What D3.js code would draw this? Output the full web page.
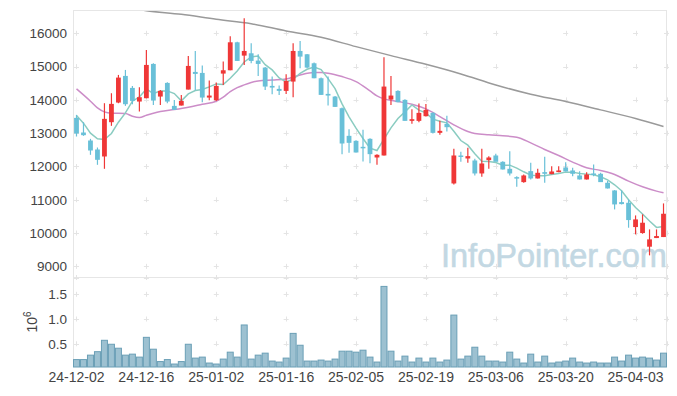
<!DOCTYPE html>
<html>
<head>
<meta charset="utf-8">
<script src="https://cdn.jsdelivr.net/npm/d3@7"></script>
<style>
  body { margin: 0; background: #fff; }
  svg { display: block; font-family: "Liberation Sans", Arial, sans-serif; }
</style>
</head>
<body>
<svg id="chart" width="677" height="396"></svg>
<script>
/*
Candlestick chart with moving averages and volume
*/

// Trading days (yy-mm-dd)
const dates = [
  "24-12-02", "24-12-03", "24-12-04", "24-12-05", "24-12-06", "24-12-09", "24-12-10", "24-12-11", "24-12-12", "24-12-13",
  "24-12-16", "24-12-17", "24-12-18", "24-12-19", "24-12-20", "24-12-23", "24-12-24", "24-12-26", "24-12-27", "24-12-30",
  "25-01-02", "25-01-03", "25-01-06", "25-01-07", "25-01-08", "25-01-09", "25-01-10", "25-01-13", "25-01-14", "25-01-15",
  "25-01-16", "25-01-17", "25-01-20", "25-01-21", "25-01-22", "25-01-23", "25-01-24", "25-01-31", "25-02-03", "25-02-04",
  "25-02-05", "25-02-06", "25-02-07", "25-02-10", "25-02-11", "25-02-12", "25-02-13", "25-02-14", "25-02-17", "25-02-18",
  "25-02-19", "25-02-20", "25-02-21", "25-02-24", "25-02-25", "25-02-26", "25-02-27", "25-02-28", "25-03-04", "25-03-05",
  "25-03-06", "25-03-07", "25-03-10", "25-03-11", "25-03-12", "25-03-13", "25-03-14", "25-03-17", "25-03-18", "25-03-19",
  "25-03-20", "25-03-21", "25-03-24", "25-03-25", "25-03-26", "25-03-27", "25-03-28", "25-03-31", "25-04-01", "25-04-02",
  "25-04-03", "25-04-04", "25-04-07", "25-04-08", "25-04-09",
];

const opens = [
  13460, 13020, 12780, 12510, 12300, 13330, 13920, 14720, 14360, 13950,
  14050, 15080, 14100, 14510, 13820, 13830, 14310, 14840, 14810, 14070,
  13990, 14790, 14890, 15730, 15330, 15400, 15180, 14970, 14420, 14330,
  14270, 14550, 15470, 15370, 15100, 14650, 14180, 14100, 13750, 12920,
  12770, 12590, 12830, 12270, 12330, 14010, 14270, 14000, 13370, 13370,
  13510, 13610, 13010, 13280, 11490, 12330, 12240, 12180, 11790, 12190,
  12330, 12140, 11930, 11680, 11530, 11860, 11640, 11830, 11770, 11830,
  11970, 11880, 11730, 11610, 11790, 11780, 11510, 11280, 10930, 10910,
  10180, 10000, 9590, 9850, 9880,
];

const highs = [
  13550, 13330, 12830, 12570, 13900, 14200, 14750, 14900, 14420, 14380,
  15500, 15100, 14300, 14530, 14000, 14150, 15320, 15470, 15030, 14580,
  14520, 15150, 15910, 15750, 16450, 15700, 15370, 14990, 14700, 14430,
  14770, 15700, 15770, 15380, 15120, 14670, 14700, 14120, 13770, 13120,
  12790, 13100, 12850, 12370, 15280, 14720, 14290, 14020, 13720, 13890,
  13880, 13630, 13370, 13520, 12530, 12440, 12560, 12230, 12530, 12310,
  12380, 12160, 12460, 11710, 11760, 12110, 11930, 12290, 12010, 12010,
  12130, 11960, 11860, 11830, 12060, 11810, 11560, 11290, 11280, 11010,
  10530, 10560, 10110, 10110, 10890,
];

const lows = [
  12900, 12920, 12350, 12050, 11930, 13220, 13900, 13820, 13870, 13650,
  14050, 13850, 13850, 13900, 13700, 13830, 14310, 14290, 13930, 13990,
  13970, 14450, 14890, 15170, 15050, 15100, 14720, 14300, 14170, 14150,
  14180, 14080, 14950, 14950, 14650, 14150, 13830, 13790, 12370, 12410,
  12420, 12150, 12100, 12050, 12330, 13850, 13930, 13370, 13280, 13330,
  13500, 12990, 12950, 13050, 11460, 12140, 12110, 11730, 11690, 11930,
  12180, 11910, 11730, 11390, 11510, 11610, 11640, 11510, 11770, 11830,
  11850, 11710, 11610, 11610, 11710, 11530, 11340, 10710, 10860, 10160,
  9960, 9980, 9330, 9850, 9880,
];

const closes = [
  12990, 12940, 12480, 12200, 13430, 13880, 14670, 13870, 13970, 14080,
  15050, 13980, 14270, 13950, 13700, 13970, 15020, 14780, 14070, 14130,
  14420, 14890, 15730, 15170, 15470, 15170, 15080, 14400, 14370, 14270,
  14570, 15470, 15300, 14970, 14650, 14150, 14130, 13790, 12690, 12710,
  12420, 12570, 12370, 12350, 14400, 14130, 13930, 13370, 13420, 13610,
  13700, 13010, 13070, 13180, 12330, 12310, 12310, 11790, 12090, 12270,
  12140, 11910, 11790, 11660, 11730, 11640, 11810, 11780, 11850, 11880,
  11850, 11780, 11610, 11760, 11770, 11530, 11340, 10860, 10870, 10390,
  10410, 10310, 9810, 9910, 10580,
];

// Volume, millions of shares
const volumes = [
  0.18, 0.18, 0.27, 0.34, 0.57, 0.49, 0.41, 0.27, 0.29, 0.23,
  0.63, 0.39, 0.14, 0.18, 0.09, 0.14, 0.49, 0.21, 0.23, 0.11,
  0.09, 0.19, 0.33, 0.23, 0.88, 0.19, 0.27, 0.31, 0.15, 0.13,
  0.21, 0.71, 0.47, 0.15, 0.15, 0.17, 0.15, 0.19, 0.35, 0.35,
  0.33, 0.37, 0.23, 0.13, 1.66, 0.35, 0.15, 0.25, 0.13, 0.21,
  0.13, 0.21, 0.13, 0.17, 1.08, 0.19, 0.25, 0.43, 0.25, 0.15,
  0.15, 0.13, 0.33, 0.19, 0.11, 0.29, 0.13, 0.25, 0.11, 0.13,
  0.15, 0.21, 0.13, 0.11, 0.13, 0.11, 0.11, 0.23, 0.15, 0.27,
  0.21, 0.23, 0.21, 0.17, 0.31,
];

// Short moving average, one value per day
const maShort = [
  13530, 13300, 13000, 12830, 12810, 12990, 13330, 13610, 13960, 14090,
  14330, 14190, 14270, 14270, 14190, 13970, 14180, 14280, 14310, 14390,
  14480, 14460, 14650, 14870, 15140, 15290, 15320, 15060, 14900, 14660,
  14540, 14620, 14800, 14920, 14990, 14910, 14640, 14340, 13880, 13490,
  13150, 12840, 12550, 12480, 12820, 13160, 13440, 13640, 13850, 13690,
  13610, 13420, 13360, 13310, 13060, 12780, 12640, 12380, 12160, 12150,
  12120, 12040, 12040, 11950, 11840, 11740, 11720, 11720, 11760, 11790,
  11830, 11830, 11790, 11770, 11750, 11690, 11600, 11450, 11270, 11000,
  10770, 10570, 10360, 10170, 10200,
];

// Medium moving average, [day index, value]
const maMid = [
  [0, 14330], [2, 13960], [3, 13760], [4, 13640], [5, 13600], [7, 13590], [8, 13510],
  [9, 13470], [10, 13540], [11, 13600], [12, 13650], [14, 13710], [16, 13780], [18, 13870],
  [20, 13960], [21, 14080], [22, 14250], [23, 14370], [24, 14450], [25, 14520], [26, 14570],
  [28, 14600], [30, 14630], [32, 14750], [34, 14820], [35, 14820], [36, 14800], [38, 14700],
  [40, 14550], [42, 14270], [43, 14120], [44, 14030], [46, 13950], [48, 13870], [50, 13730],
  [52, 13500], [54, 13250], [56, 13050], [57, 12990], [59, 12950], [61, 12920], [63, 12880],
  [65, 12710], [67, 12510], [69, 12330], [71, 12130], [73, 11960], [75, 11880], [77, 11760],
  [79, 11560], [81, 11390], [83, 11260], [84, 11210],
];

// Long moving average, [day index, value]
const maLong = [
  [0, 17000], [5, 16850], [10, 16680], [15, 16570], [20, 16420], [25, 16290], [30, 16070],
  [35, 15880], [40, 15600], [45, 15330], [50, 15070], [55, 14780], [60, 14450], [65, 14170],
  [70, 13950], [75, 13700], [80, 13440], [84, 13200],
];

const priceTicks = [9000, 10000, 11000, 12000, 13000, 14000, 15000, 16000];
const volumeTicks = [0.5, 1.0, 1.5];

const config = {
  LEFT: 73,
  RIGHT: 667,
  TOP: 10,
  PRICE_BOTTOM: 277,
  VOLUME_BOTTOM: 367,
  UP: "#ef3737",
  DOWN: "#69c0d8",
  MA_SHORT: "#8accc1",
  MA_MID: "#cc8dc8",
  MA_LONG: "#9a9a9a",
  GRID: "#e4e4e4",
  BORDER: "#e6e6e6",
};

const svg = d3.select("#chart");

const x = d3
  .scaleBand()
  .domain(dates)
  .range([config.LEFT, config.RIGHT])
  .padding(0);
const bw = x.bandwidth();
const cx = (i) => x(dates[i]) + bw / 2;

const y = d3
  .scaleLinear()
  .domain([8680, 16700])
  .range([config.PRICE_BOTTOM, config.TOP]);

const yv = d3
  .scaleLinear()
  .domain([0.03, 1.83])
  .range([config.VOLUME_BOTTOM, config.PRICE_BOTTOM + 1]);

const labelDates = dates.filter((d, i) => i % 10 === 0);

// Frame
const frame = svg.append("g").attr("stroke", config.BORDER).attr("fill", "none");
frame.append("line")
  .attr("x1", config.LEFT).attr("x2", config.RIGHT)
  .attr("y1", config.TOP + 0.5).attr("y2", config.TOP + 0.5);
frame.append("line")
  .attr("x1", config.LEFT).attr("x2", config.RIGHT)
  .attr("y1", config.PRICE_BOTTOM + 0.5).attr("y2", config.PRICE_BOTTOM + 0.5);
frame.append("line")
  .attr("x1", config.LEFT + 0.5).attr("x2", config.LEFT + 0.5)
  .attr("y1", config.TOP).attr("y2", config.VOLUME_BOTTOM);
frame.append("line")
  .attr("x1", config.RIGHT - 0.5).attr("x2", config.RIGHT - 0.5)
  .attr("y1", config.TOP).attr("y2", config.VOLUME_BOTTOM);

// Grid is drawn as small crosses at tick intersections
const gridX = labelDates.map((d) => x(d) + bw / 2).concat([config.RIGHT - 0.5]);
const gridY = priceTicks.map(y)
  .concat(volumeTicks.map(yv))
  .concat([config.PRICE_BOTTOM + 0.5]);
const crosses = [];
gridX.forEach((gx) => gridY.forEach((gy) => crosses.push([gx, gy])));
svg.append("g")
  .attr("stroke", config.GRID)
  .attr("stroke-width", 1)
  .selectAll("path")
  .data(crosses)
  .join("path")
  .attr("d", ([gx, gy]) => `M${gx - 2.5},${Math.round(gy) + 0.5}h5M${Math.round(gx) + 0.5},${gy - 2.5}v5`);

// Watermark
svg.append("text")
  .attr("x", 441)
  .attr("y", 267)
  .attr("font-size", 32.5)
  .attr("fill", "#c3d8e3")
  .attr("stroke", "#c3d8e3")
  .attr("stroke-width", 0.6)
  .text("InfoPointer.com");

// Clip the price panel
svg.append("defs")
  .append("clipPath")
  .attr("id", "price-clip")
  .append("rect")
  .attr("x", config.LEFT)
  .attr("y", config.TOP + 1)
  .attr("width", config.RIGHT - config.LEFT)
  .attr("height", config.PRICE_BOTTOM - config.TOP - 1);

const gPrice = svg.append("g").attr("clip-path", "url(#price-clip)");

// Moving averages
const line = d3
  .line()
  .x(([i]) => cx(i))
  .y(([, v]) => y(v));
const smooth = d3
  .line()
  .curve(d3.curveMonotoneX)
  .x(([i]) => cx(i))
  .y(([, v]) => y(v));

gPrice.append("path")
  .attr("fill", "none")
  .attr("stroke", config.MA_LONG)
  .attr("stroke-width", 1.5)
  .attr("d", smooth(maLong));

gPrice.append("path")
  .attr("fill", "none")
  .attr("stroke", config.MA_MID)
  .attr("stroke-width", 1.5)
  .attr("d", smooth(maMid));

gPrice.append("path")
  .attr("fill", "none")
  .attr("stroke", config.MA_SHORT)
  .attr("stroke-width", 1.5)
  .attr("d", line(maShort.map((v, i) => [i, v])));

// Candles
const candles = dates.map((d, i) => ({
  i, o: opens[i], h: highs[i], l: lows[i], c: closes[i],
}));
const color = (d) => (d.c >= d.o ? config.UP : config.DOWN);

const gCandle = gPrice.append("g")
  .selectAll("g")
  .data(candles)
  .join("g");

gCandle.append("line")
  .attr("x1", (d) => cx(d.i))
  .attr("x2", (d) => cx(d.i))
  .attr("y1", (d) => y(d.h))
  .attr("y2", (d) => y(d.l))
  .attr("stroke", color)
  .attr("stroke-width", 1.2);

gCandle.append("rect")
  .attr("x", (d) => cx(d.i) - 2.4)
  .attr("width", 4.8)
  .attr("y", (d) => y(Math.max(d.o, d.c)))
  .attr("height", (d) => Math.max(1.5, Math.abs(y(d.o) - y(d.c))))
  .attr("fill", color);

// Volume bars
svg.append("g")
  .selectAll("rect")
  .data(volumes)
  .join("rect")
  .attr("x", (v, i) => x(dates[i]) + 0.5)
  .attr("width", bw - 1)
  .attr("y", (v) => yv(v))
  .attr("height", (v) => yv.range()[0] - yv(v))
  .attr("fill", "#9dc1d1")
  .attr("stroke", "#6a9fb6")
  .attr("stroke-width", 1);

// Axes
const gy = svg.append("g")
  .attr("transform", `translate(${config.LEFT},0)`)
  .call(d3.axisLeft(y).tickValues(priceTicks).tickSize(0).tickPadding(6).tickFormat(d3.format("d")));
const gyv = svg.append("g")
  .attr("transform", `translate(${config.LEFT},0)`)
  .call(d3.axisLeft(yv).tickValues(volumeTicks).tickSize(0).tickPadding(6).tickFormat(d3.format(".1f")));
const gx = svg.append("g")
  .attr("transform", `translate(0,${config.VOLUME_BOTTOM})`)
  .call(d3.axisBottom(x).tickValues(labelDates).tickSize(0).tickPadding(5));

[gy, gyv, gx].forEach((g) => {
  g.select(".domain").remove();
  g.selectAll("text")
    .attr("fill", "#444")
    .attr("font-family", "Liberation Sans, Arial, sans-serif");
});
gy.selectAll("text").attr("font-size", 13.5);
gyv.selectAll("text").attr("font-size", 13.5);
gx.selectAll("text").attr("font-size", 14);

// Volume unit label
const unit = svg.append("text")
  .attr("transform", "translate(37,322) rotate(-90)")
  .attr("text-anchor", "middle")
  .attr("font-size", 14)
  .attr("fill", "#444");
unit.append("tspan").text("10");
unit.append("tspan").attr("dy", -6).attr("font-size", 10).text("6");
</script>
</body>
</html>
